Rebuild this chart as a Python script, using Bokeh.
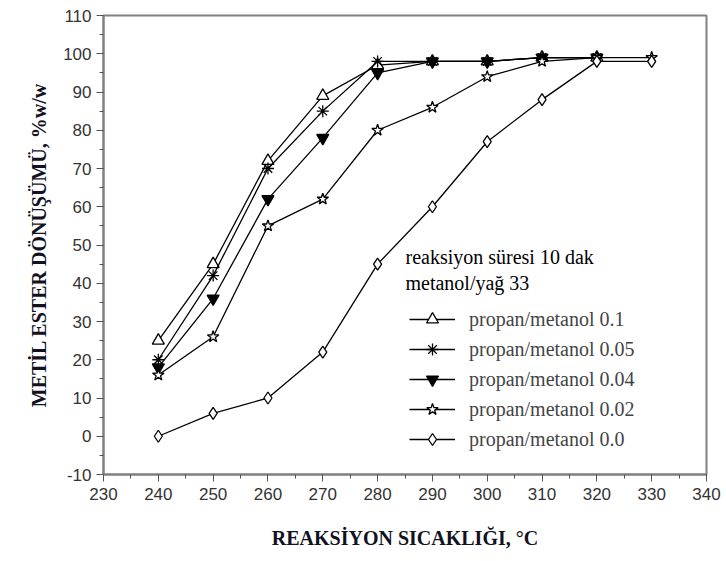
from bokeh.plotting import figure
from bokeh.models import SingleIntervalTicker, Range1d, Label, Legend, LegendItem, CustomJSTickFormatter
from bokeh.embed import file_html
from bokeh.resources import INLINE

temps = [240, 250, 260, 270, 280, 290, 300, 310, 320, 330]
s_01 = [25, 45, 72, 89, 97, 98, 98, 99, 99]
s_005 = [20, 42, 70, 85, 98, 98, 98, 99, 99]
s_004 = [18, 36, 62, 78, 95, 98, 98, 99, 99]
s_002 = [16, 26, 55, 62, 80, 86, 94, 98, 99, 99]
s_00 = [0, 6, 10, 22, 45, 60, 77, 88, 98, 98]
labels = ["propan/metanol 0.1", "propan/metanol 0.05", "propan/metanol 0.04",
          "propan/metanol 0.02", "propan/metanol 0.0"]
notes = ["reaksiyon süresi 10 dak", "metanol/yağ 33"]

p = figure(width=726, height=561, output_backend="svg", toolbar_location=None,
           x_range=Range1d(230, 340), y_range=Range1d(-10, 110),
           min_border_left=103, min_border_right=20, min_border_top=15, min_border_bottom=87)
p.background_fill_color = "white"
p.border_fill_color = "white"
p.outline_line_color = "#808080"
p.outline_line_width = 2
p.xgrid.visible = False
p.ygrid.visible = False

for ax in (p.xaxis[0], p.yaxis[0]):
    ax.ticker = SingleIntervalTicker(interval=10, num_minor_ticks=2)
    ax.formatter = CustomJSTickFormatter(code="return String(tick);")
    ax.axis_line_color = "#808080"
    ax.axis_line_width = 2
    ax.major_tick_line_color = "#555555"
    ax.minor_tick_line_color = "#555555"
    ax.major_tick_out = 7
    ax.major_tick_in = 0
    ax.minor_tick_out = 4
    ax.minor_tick_in = 0
    ax.major_label_text_font = "Liberation Sans"
    ax.major_label_text_font_size = "17px"
    ax.major_label_text_color = "#333333"
    ax.axis_label_text_font = "Liberation Serif"
    ax.axis_label_text_font_style = "bold"
    ax.axis_label_text_font_size = "20px"
    ax.axis_label_text_color = "#111122"

p.xaxis.axis_label = "REAKSİYON SICAKLIĞI, °C"
p.yaxis.axis_label = "METİL ESTER DÖNÜŞÜMÜ, %w/w"
p.xaxis.major_label_standoff = 6
p.xaxis.axis_label_standoff = 24
p.yaxis.axis_label_standoff = 10

series = [s_01, s_005, s_004, s_002, s_00]
markers = ["triangle", "asterisk", "inverted_triangle", "star", "diamond"]
fills = ["white", "black", "black", "white", "white"]
items = []
for ys, m, f, lab in zip(series, markers, fills, labels):
    xs = temps[:len(ys)]
    ln = p.line(xs, ys, line_color="black", line_width=1.3)
    sc = p.scatter(xs, ys, marker=m, size=12, fill_color=f, line_color="black", line_width=1.3)
    items.append(LegendItem(label=lab, renderers=[ln, sc]))

leg = Legend(items=items, location=(306, 20), border_line_alpha=0,
             background_fill_alpha=0, label_text_font="Liberation Serif",
             label_text_font_size="20px", glyph_height=30, glyph_width=46,
             label_height=30, spacing=0, padding=0, margin=0, label_standoff=14)
p.add_layout(leg, "center")

for i, t in enumerate(notes):
    p.add_layout(Label(x=302, y=207 - i * 26, x_units="screen", y_units="screen", text=t,
                       text_font="Liberation Serif", text_font_size="20px",
                       text_color="black"))

open("out.html", "w").write(file_html(p, INLINE))
